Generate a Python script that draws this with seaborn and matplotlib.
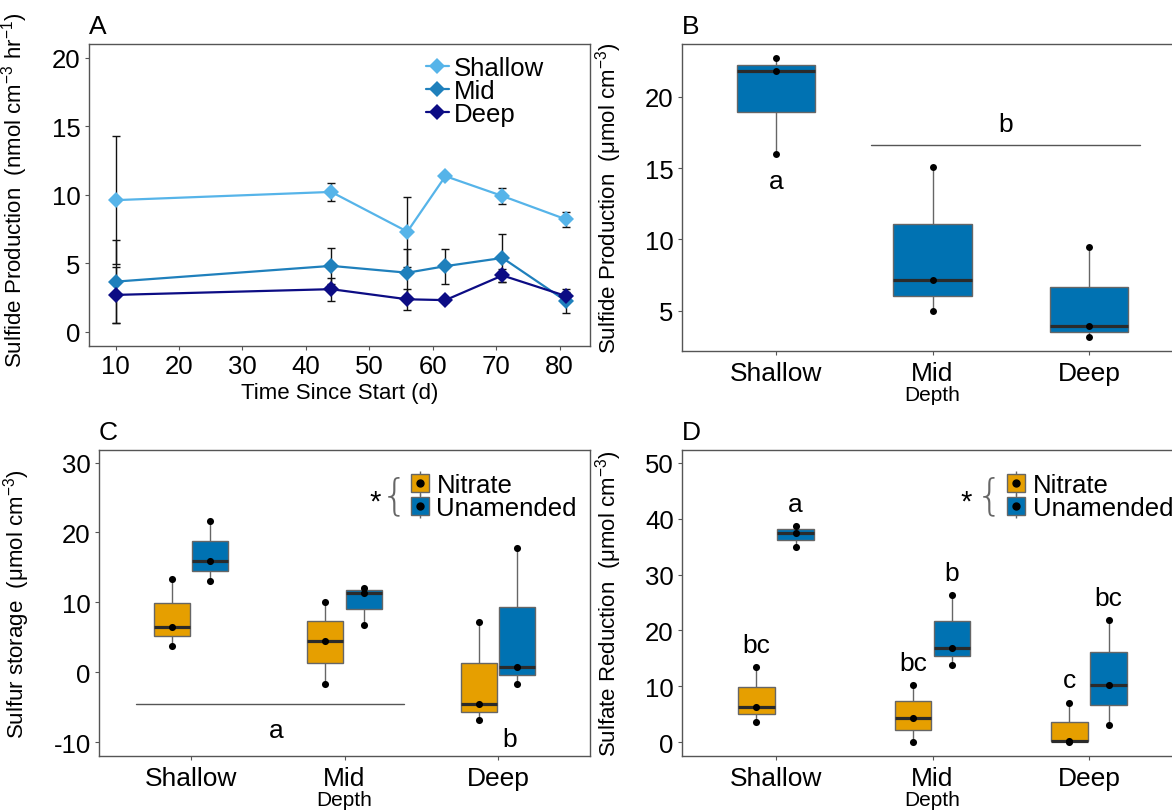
import numpy as np
import pandas as pd
import matplotlib
matplotlib.use("Agg")
import matplotlib.pyplot as plt
import seaborn as sns
from matplotlib.patches import Patch
from matplotlib.lines import Line2D

# ---------------- data ----------------
depths = ["Shallow", "Mid", "Deep"]
treatments = ["Nitrate", "Unamended"]

# Panel A: sulfide production over time (mean +/- error)
days = [10, 44, 56, 62, 71, 81]
shallow_mean = [9.6, 10.2, 7.3, 11.35, 9.9, 8.2]
shallow_err = [4.65, 0.65, 2.55, 0.15, 0.55, 0.57]
mid_mean = [3.65, 4.8, 4.3, 4.78, 5.38, 2.24]
mid_err = [3.04, 1.33, 1.76, 1.28, 1.77, 0.87]
deep_mean = [2.68, 3.1, 2.36, 2.3, 4.1, 2.6]
deep_err = [2.07, 0.84, 0.78, 0.15, 0.45, 0.3]

# Panel B: sulfide production by depth
b_shallow = [16.0, 21.8, 22.7]
b_mid = [4.96, 7.13, 15.06]
b_deep = [3.14, 3.9, 9.45]

# Panel C: sulfur storage
c_nitrate_shallow = [3.81, 6.43, 13.33]
c_nitrate_mid = [-1.71, 4.43, 10.1]
c_nitrate_deep = [-6.81, -4.62, 7.14]
c_unamended_shallow = [13.0, 15.95, 21.67]
c_unamended_mid = [6.71, 11.33, 12.05]
c_unamended_deep = [-1.71, 0.81, 17.81]

# Panel D: sulfate reduction
d_nitrate_shallow = [3.57, 6.31, 13.39]
d_nitrate_mid = [0.0, 4.35, 10.24]
d_nitrate_deep = [0.0, 0.2, 7.02]
d_unamended_shallow = [34.94, 37.5, 38.7]
d_unamended_mid = [13.87, 16.9, 26.37]
d_unamended_deep = [2.98, 10.24, 21.85]

# significance letters (Panel D): label per depth/treatment
d_letters_nitrate = ["bc", "bc", "c"]
d_letters_unamended = ["a", "b", "bc"]

# ---------------- style ----------------
sns.set_theme(style="white")
plt.rcParams["font.family"] = ["Liberation Sans", "DejaVu Sans"]
plt.rcParams["mathtext.default"] = "regular"
plt.rcParams["axes.unicode_minus"] = False
plt.rcParams["text.color"] = "black"
plt.rcParams["axes.labelcolor"] = "black"

palA = {"Shallow": "#56B4E9", "Mid": "#1F80BC", "Deep": "#0C0C84"}
blue = "#0072B2"
orange = "#E69F00"
pal_trt = {"Nitrate": orange, "Unamended": blue}
edge = "#666666"
TICK = 18.5
LAB = 16
PANEL = 19

fig = plt.figure(figsize=(11.72, 8.12), dpi=100)
W, H = 1172, 812


def rect(l, t, r, b):
    return [l / W, 1 - b / H, (r - l) / W, (b - t) / H]


axA = fig.add_axes(rect(89, 45, 590, 347))
axB = fig.add_axes(rect(682, 45, 1183, 352))
axC = fig.add_axes(rect(99, 451, 590, 757))
axD = fig.add_axes(rect(682, 451, 1183, 757))


def style(ax):
    for s in ax.spines.values():
        s.set_visible(True)
        s.set_color("#555555")
        s.set_linewidth(1.0)
    ax.tick_params(axis="both", which="major", direction="out", length=3, width=0.8,
                   color="#555555", labelsize=TICK, labelcolor="black", pad=3,
                   left=True, bottom=True)
    ax.grid(False)


box_kw = dict(linecolor=edge, linewidth=1.0, showcaps=False, fliersize=0, saturation=1,
              medianprops=dict(color="#2b2b2b", linewidth=2.3))

# ---------------- Panel A ----------------
dfA = pd.DataFrame({
    "Day": days * 3,
    "value": shallow_mean + mid_mean + deep_mean,
    "err": shallow_err + mid_err + deep_err,
    "Depth": np.repeat(depths, len(days)),
})
for d in depths:
    sub = dfA[dfA.Depth == d]
    axA.errorbar(sub.Day, sub.value, yerr=sub.err, fmt="none", ecolor="#111111",
                 elinewidth=1, capsize=3, capthick=1, zorder=2)
sns.lineplot(data=dfA, x="Day", y="value", hue="Depth", hue_order=depths, palette=palA,
             marker="D", markersize=8.5, markeredgewidth=0, linewidth=1.6, errorbar=None,
             legend=False, ax=axA, zorder=3)
style(axA)
axA.set_xlim(5.8, 84.8)
axA.set_ylim(-1.05, 21.0)
axA.set_xticks([10, 20, 30, 40, 50, 60, 70, 80])
axA.set_yticks([0, 5, 10, 15, 20])
axA.set_xlabel("Time Since Start (d)", fontsize=LAB, labelpad=3)
axA.set_ylabel("Sulfide Production  (nmol cm$^{-3}$ hr$^{-1}$)", fontsize=LAB)
axA.yaxis.set_label_coords(-0.118, 0.52)
handlesA = [Line2D([0], [0], color=palA[d], marker="D", markersize=8.5, markeredgewidth=0, lw=1.6)
            for d in depths]
axA.legend(handlesA, depths, loc="upper left", bbox_to_anchor=(0.672, 0.96), frameon=False,
           fontsize=TICK, handlelength=0.9, handletextpad=0.2, labelspacing=-0.05,
           borderpad=0, borderaxespad=0)
axA.text(0.0, 1.02, "A", transform=axA.transAxes, fontsize=PANEL, ha="left", va="bottom")

# ---------------- Panel B ----------------
dfB = pd.DataFrame({"Depth": np.repeat(depths, 3), "value": b_shallow + b_mid + b_deep})
sns.boxplot(data=dfB, x="Depth", y="value", order=depths, color=blue, width=0.5, ax=axB, **box_kw)
sns.stripplot(data=dfB, x="Depth", y="value", order=depths, jitter=False, color="black",
              size=5, ax=axB, zorder=4)
style(axB)
axB.set_xlim(-0.6, 2.6)
axB.set_ylim(2.17, 23.7)
axB.set_yticks([5, 10, 15, 20])
axB.tick_params(axis="x", labelsize=19, pad=4)
axB.set_xlabel("Depth", fontsize=15, labelpad=0)
axB.set_ylabel("Sulfide Production  (\u03bcmol cm$^{-3}$)", fontsize=LAB)
axB.yaxis.set_label_coords(-0.116, 0.5)
axB.text(0, 13.6, "a", ha="center", va="baseline", fontsize=19)
axB.plot([0.61, 2.325], [16.65, 16.65], color="#555555", lw=1)
axB.text(1.464, 17.63, "b", ha="center", va="baseline", fontsize=19)
axB.text(0.0, 1.02, "B", transform=axB.transAxes, fontsize=PANEL, ha="left", va="bottom")


# ---------------- Panels C & D ----------------
def long_df(nit, una):
    df = pd.DataFrame({
        "Depth": np.tile(np.repeat(depths, 3), 2),
        "Treatment": np.repeat(treatments, 9),
        "value": nit + una,
    })
    df["xpos"] = (df.Depth.map({d: i for i, d in enumerate(depths)})
                  + df.Treatment.map({"Nitrate": -0.125, "Unamended": 0.125}))
    return df


def trt_panel(ax, df):
    sns.boxplot(data=df, x="Depth", y="value", hue="Treatment", order=depths,
                hue_order=treatments, palette=pal_trt, width=0.5, gap=0.06, dodge=True,
                legend=False, ax=ax, **box_kw)
    sns.scatterplot(data=df, x="xpos", y="value", color="black", s=26, linewidth=0,
                    legend=False, ax=ax, zorder=4)
    style(ax)
    ax.set_xlim(-0.6, 2.6)
    ax.set_xticks([0, 1, 2])
    ax.set_xticklabels(depths)
    ax.tick_params(axis="x", labelsize=19, pad=4)
    ax.set_xlabel("Depth", fontsize=15, labelpad=0)


def trt_legend(ax, x_star, x_brace, x_leg):
    handles = [(Line2D([0], [0], color=edge, marker="|", markersize=17, ls="none", markeredgewidth=1),
                Patch(facecolor=pal_trt[t], edgecolor=edge, lw=1),
                Line2D([0], [0], marker="o", color="black", markersize=5, ls="none"))
               for t in treatments]
    ax.legend(handles, treatments, loc="center left", bbox_to_anchor=(x_leg, 0.848),
              frameon=False, fontsize=TICK, handlelength=0.7, handleheight=0.7,
              handletextpad=0.3, labelspacing=-0.05, borderpad=0, borderaxespad=0)
    ax.text(x_star, 0.83, "*", transform=ax.transAxes, fontsize=21, ha="center", va="center")
    ax.text(x_brace, 0.85, "{", transform=ax.transAxes, fontsize=31, color=edge,
            ha="center", va="center", family="DejaVu Sans", fontweight="light")


dfC = long_df(c_nitrate_shallow + c_nitrate_mid + c_nitrate_deep,
              c_unamended_shallow + c_unamended_mid + c_unamended_deep)
trt_panel(axC, dfC)
axC.set_ylim(-12.0, 31.8)
axC.set_yticks([-10, 0, 10, 20, 30])
axC.set_ylabel("Sulfur storage  (\u03bcmol cm$^{-3}$)", fontsize=LAB)
axC.yaxis.set_label_coords(-0.136, 0.5)
axC.plot([-0.36, 1.39], [-4.6, -4.6], color="#555555", lw=1)
axC.text(0.5575, -9.29, "a", ha="center", va="baseline", fontsize=19)
axC.text(2.075, -10.57, "b", ha="center", va="baseline", fontsize=19)
trt_legend(axC, 0.562, 0.601, 0.635)
axC.text(0.0, 1.02, "C", transform=axC.transAxes, fontsize=PANEL, ha="left", va="bottom")

dfD = long_df(d_nitrate_shallow + d_nitrate_mid + d_nitrate_deep,
              d_unamended_shallow + d_unamended_mid + d_unamended_deep)
trt_panel(axD, dfD)
axD.set_ylim(-2.5, 52.3)
axD.set_yticks([0, 10, 20, 30, 40, 50])
axD.set_ylabel("Sulfate Reduction  (\u03bcmol cm$^{-3}$)", fontsize=LAB)
axD.yaxis.set_label_coords(-0.115, 0.5)
nit_tops = [max(v) for v in (d_nitrate_shallow, d_nitrate_mid, d_nitrate_deep)]
una_tops = [max(v) for v in (d_unamended_shallow, d_unamended_mid, d_unamended_deep)]
for i in range(3):
    axD.text(i - 0.125, nit_tops[i] + 2.75, d_letters_nitrate[i], ha="center", va="baseline", fontsize=19)
    axD.text(i + 0.125, una_tops[i] + 2.7, d_letters_unamended[i], ha="center", va="baseline", fontsize=19)
trt_legend(axD, 0.567, 0.613, 0.649)
axD.text(0.0, 1.02, "D", transform=axD.transAxes, fontsize=PANEL, ha="left", va="bottom")

fig.savefig("out.png", dpi=100)
